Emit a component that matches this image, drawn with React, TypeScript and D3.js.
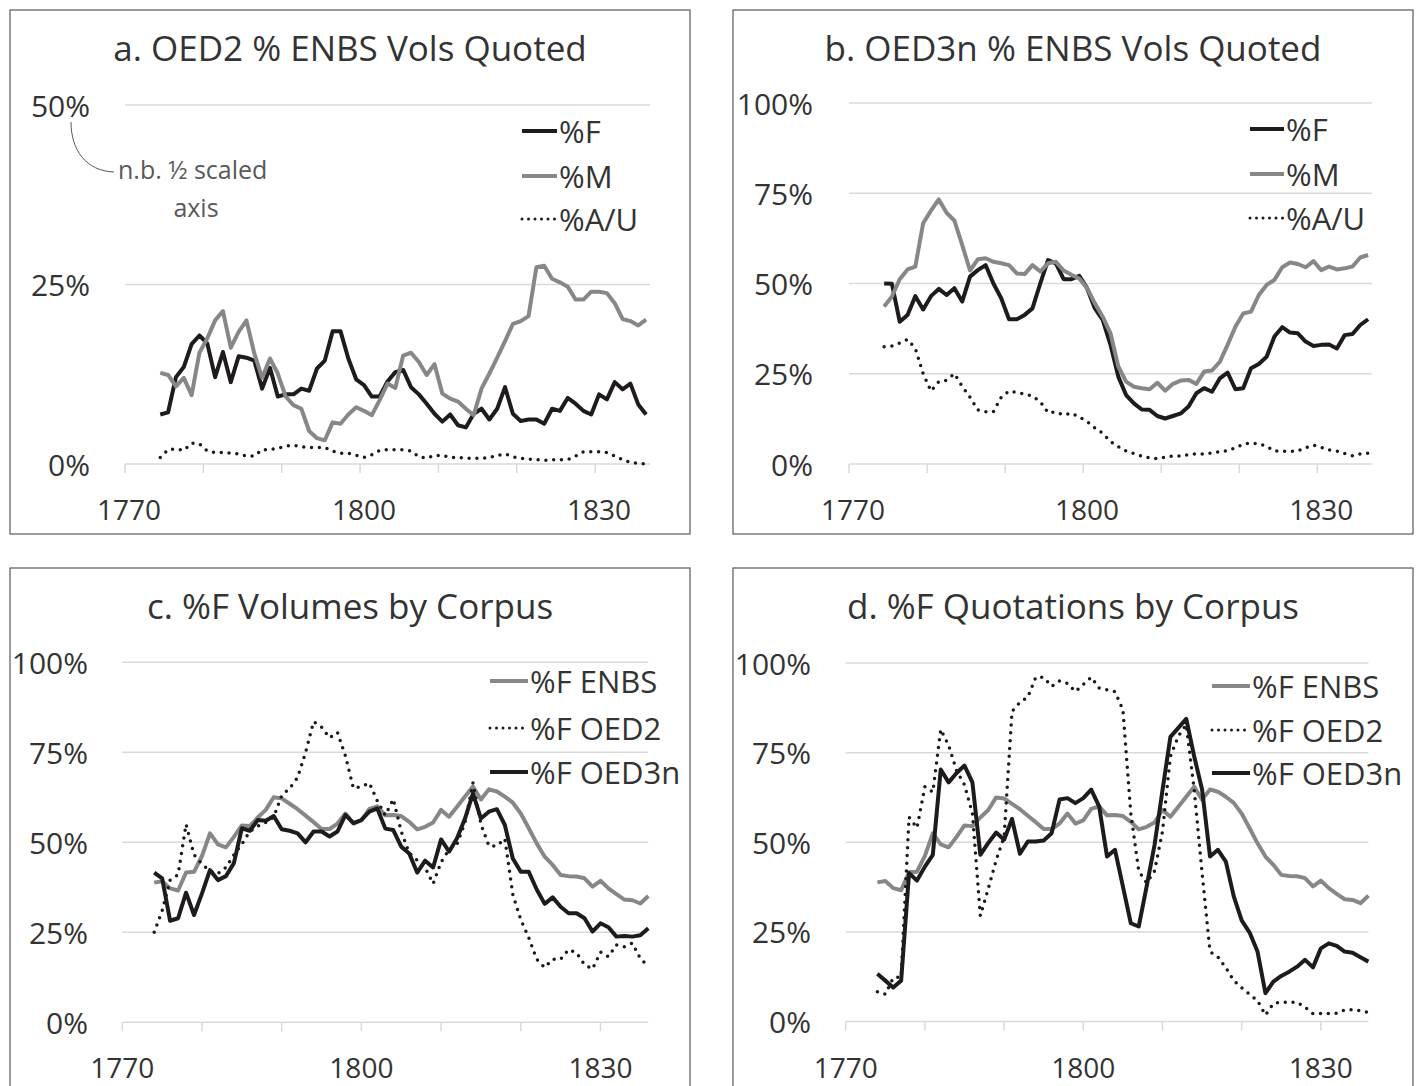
import * as d3 from "d3";

const years = d3.range(1774, 1837);

// a. OED2 share of ENBS volumes quoted (half-scaled axis)
const oed2F = [6.9, 7.2, 12.1, 13.5, 16.7, 17.9, 16.8, 12.1, 15.6, 11.4, 15.0, 14.8, 14.4, 10.5, 13.4, 9.4, 9.7, 9.7, 10.5, 10.2, 13.3, 14.4, 18.5, 18.5, 14.7, 11.8, 11.0, 9.4, 9.4, 11.5, 12.8, 13.1, 10.7, 9.7, 8.4, 7.0, 5.9, 6.9, 5.4, 5.1, 7.0, 7.7, 6.2, 7.7, 10.7, 7.0, 6.0, 6.2, 6.2, 5.6, 7.7, 7.4, 9.2, 8.4, 7.4, 6.9, 9.7, 9.0, 11.4, 10.4, 11.2, 8.3, 6.9];
const oed2M = [12.7, 12.4, 10.8, 12.0, 9.6, 15.5, 17.5, 20.0, 21.3, 16.2, 18.4, 20.0, 15.4, 12.0, 14.7, 12.6, 9.4, 8.2, 7.7, 4.6, 3.6, 3.3, 5.8, 5.6, 6.9, 7.9, 7.4, 6.8, 8.9, 11.2, 10.6, 15.1, 15.5, 14.2, 12.4, 13.9, 9.8, 9.1, 8.7, 7.7, 6.8, 10.5, 12.6, 14.8, 17.1, 19.5, 19.9, 20.6, 27.4, 27.6, 25.8, 25.3, 24.7, 22.9, 22.9, 24.0, 24.0, 23.8, 22.4, 20.2, 19.9, 19.3, 20.1];
const oed2AU = [0.9, 2.0, 2.1, 1.9, 2.9, 2.8, 1.8, 1.6, 1.6, 1.5, 1.4, 1.1, 1.1, 2.0, 2.0, 2.2, 2.5, 2.6, 2.4, 2.3, 2.3, 2.3, 1.8, 1.5, 1.5, 1.2, 0.9, 1.3, 1.9, 2.0, 2.0, 2.0, 1.8, 1.0, 0.8, 1.2, 1.2, 0.9, 0.9, 0.8, 0.8, 0.8, 0.9, 1.2, 1.4, 1.0, 0.8, 0.7, 0.6, 0.5, 0.6, 0.6, 0.6, 1.1, 1.7, 1.7, 1.7, 1.6, 1.1, 0.6, 0.2, 0.1, 0.0];

// b. OED3n share of ENBS volumes quoted
const oed3F = [50.0, 49.9, 39.4, 41.3, 46.5, 42.8, 46.5, 48.5, 46.8, 48.7, 45.0, 51.9, 53.7, 55.1, 50.0, 45.9, 40.1, 40.1, 41.3, 43.1, 50.0, 56.5, 55.6, 51.2, 51.2, 52.1, 48.7, 43.1, 39.9, 33.0, 24.2, 19.1, 16.8, 15.1, 15.0, 13.3, 12.6, 13.3, 14.0, 15.9, 19.6, 21.0, 20.0, 23.7, 25.3, 20.7, 21.0, 26.5, 27.7, 29.7, 35.3, 37.9, 36.4, 36.2, 33.9, 32.7, 33.0, 33.1, 32.0, 35.7, 36.0, 38.5, 40.1];
const oed3M = [43.6, 46.4, 51.2, 53.9, 54.7, 66.7, 70.2, 73.3, 69.6, 67.4, 60.7, 53.6, 56.7, 57.0, 56.0, 55.6, 55.1, 52.8, 52.6, 55.1, 53.3, 55.6, 56.0, 53.6, 52.4, 51.4, 48.7, 44.5, 40.8, 36.2, 27.0, 22.8, 21.4, 21.0, 20.7, 22.5, 20.3, 22.2, 23.1, 23.3, 22.2, 25.6, 25.9, 28.3, 33.0, 38.0, 41.7, 42.2, 46.8, 49.6, 51.0, 54.5, 55.8, 55.4, 54.5, 56.2, 53.7, 54.7, 53.9, 54.2, 54.7, 57.2, 57.9];
const oed3AU = [32.5, 32.7, 33.5, 34.5, 32.0, 25.0, 20.2, 22.8, 23.2, 25.0, 21.5, 18.5, 15.0, 14.5, 14.5, 18.5, 20.2, 19.8, 19.4, 18.8, 17.3, 14.2, 14.4, 13.6, 14.1, 13.0, 11.8, 10.0, 8.5, 6.2, 4.8, 3.6, 2.9, 2.2, 1.7, 1.5, 1.9, 2.2, 2.2, 2.6, 2.8, 2.8, 3.0, 3.4, 3.7, 4.5, 5.5, 5.8, 5.6, 4.9, 3.6, 3.5, 3.5, 3.6, 4.5, 5.2, 4.6, 3.9, 3.6, 2.9, 2.3, 2.8, 3.0];

// c. %F volumes by corpus
const enbsF = [38.8, 39.2, 37.2, 36.6, 41.6, 41.8, 46.2, 52.5, 49.4, 48.6, 51.5, 54.7, 54.5, 56.9, 59.0, 62.5, 62.2, 60.7, 59.2, 57.4, 55.6, 53.7, 53.7, 55.2, 58.0, 55.2, 56.1, 59.3, 60.0, 57.5, 57.6, 57.3, 55.7, 53.6, 54.3, 55.5, 59.0, 57.1, 59.9, 62.7, 65.5, 61.9, 64.7, 64.1, 62.7, 61.0, 58.0, 53.9, 49.7, 46.0, 43.7, 40.9, 40.6, 40.5, 40.0, 37.7, 39.3, 37.2, 35.6, 34.1, 33.9, 33.0, 35.1];
const volOed2F = [25.0, 31.0, 39.5, 41.0, 55.0, 46.5, 44.0, 42.0, 41.3, 43.0, 46.5, 49.5, 53.0, 54.5, 55.5, 57.0, 63.0, 65.0, 68.0, 75.0, 83.5, 82.0, 79.0, 80.5, 74.0, 65.0, 65.5, 66.5, 61.5, 57.5, 62.0, 53.0, 47.0, 45.0, 43.0, 38.5, 44.5, 48.0, 49.5, 55.5, 66.5, 55.0, 49.0, 49.0, 51.0, 35.5, 28.5, 23.5, 17.5, 15.2, 17.5, 17.5, 20.2, 19.3, 16.0, 14.8, 19.5, 18.2, 21.5, 21.0, 22.0, 17.7, 15.5];
const volOed3F = [41.6, 40.0, 28.2, 28.9, 36.0, 29.8, 35.8, 42.3, 39.5, 40.6, 44.2, 53.9, 53.2, 56.2, 56.0, 57.3, 53.6, 53.2, 52.5, 50.0, 53.0, 53.0, 51.6, 53.0, 57.6, 55.3, 56.2, 58.5, 59.4, 53.8, 53.4, 48.8, 46.9, 41.6, 44.9, 43.0, 50.8, 47.4, 51.1, 56.6, 63.6, 56.6, 58.5, 59.2, 54.8, 45.5, 41.8, 41.8, 36.9, 32.9, 34.7, 32.1, 30.3, 30.3, 28.9, 25.2, 27.5, 26.4, 23.8, 24.0, 23.8, 24.2, 26.1];

// d. %F quotations by corpus
const quoOed2F = [8.3, 7.6, 12.2, 12.5, 57.0, 54.0, 65.5, 64.0, 81.5, 77.0, 70.0, 66.0, 58.0, 29.5, 37.0, 45.0, 51.5, 86.5, 89.0, 90.5, 96.0, 96.0, 93.5, 95.0, 94.3, 92.0, 94.0, 96.0, 93.0, 92.5, 92.0, 87.0, 58.0, 42.0, 38.7, 42.0, 53.0, 74.0, 79.6, 82.8, 64.7, 41.4, 19.5, 18.0, 15.0, 11.4, 9.4, 7.6, 5.8, 1.8, 5.0, 5.4, 5.4, 5.4, 4.0, 2.2, 2.2, 2.2, 2.3, 3.2, 3.3, 3.0, 2.5];
const quoOed3F = [13.3, 11.4, 9.5, 11.4, 41.4, 39.3, 43.2, 46.5, 70.3, 66.7, 69.3, 71.4, 66.7, 46.5, 49.8, 52.7, 50.7, 56.5, 46.8, 50.2, 50.2, 50.5, 52.5, 61.9, 62.3, 60.9, 62.3, 64.7, 60.0, 46.0, 47.9, 37.7, 27.4, 26.5, 37.7, 49.3, 64.5, 79.4, 81.9, 84.4, 74.0, 64.7, 46.0, 47.9, 44.6, 34.9, 28.2, 24.8, 19.5, 7.9, 11.1, 12.7, 13.9, 15.3, 17.2, 15.1, 20.4, 21.8, 21.1, 19.5, 19.2, 17.9, 16.7];

const tickYears = [1770, 1780, 1790, 1800, 1810, 1820, 1830];
const labelYears = [1770, 1800, 1830];

const FONT = "'Open Sans', 'Noto Sans', sans-serif";
const TEXT = "#333333";
const GRID = "#d9d9d9";
const styles = {
  black: { stroke: "#1f1b1c", width: 4, dash: undefined },
  gray: { stroke: "#878787", width: 4, dash: undefined },
  dot: { stroke: "#1a1a1a", width: 3.5, dash: "0 7.8" },
};

const panels = [
  {
    title: "a. OED2 % ENBS Vols Quoted",
    box: [10, 10, 680, 524],
    between: true,
    xRange: [125, 650],
    yRange: [464, 105],
    yMax: 0.5,
    yTicks: [0, 0.25, 0.5],
    yLabelX: 90,
    legend: { x1: 522, x2: 557, ys: [131, 176, 219] },
    series: [
      { name: "%F", values: oed2F, style: "black" },
      { name: "%M", values: oed2M, style: "gray" },
      { name: "%A/U", values: oed2AU, style: "dot" },
    ],
  },
  {
    title: "b. OED3n % ENBS Vols Quoted",
    box: [733, 10, 680, 524],
    between: true,
    xRange: [849, 1372],
    yRange: [464, 103],
    yMax: 1,
    yTicks: [0, 0.25, 0.5, 0.75, 1],
    yLabelX: 813,
    legend: { x1: 1250, x2: 1284, ys: [129, 174, 218] },
    series: [
      { name: "%F", values: oed3F, style: "black" },
      { name: "%M", values: oed3M, style: "gray" },
      { name: "%A/U", values: oed3AU, style: "dot" },
    ],
  },
  {
    title: "c. %F Volumes by Corpus",
    box: [10, 568, 680, 530],
    between: false,
    xRange: [122.3, 648.3],
    yRange: [1022.3, 662.3],
    yMax: 1,
    yTicks: [0, 0.25, 0.5, 0.75, 1],
    yLabelX: 88,
    legend: { x1: 490, x2: 528, ys: [681, 728, 772] },
    series: [
      { name: "%F ENBS", values: enbsF, style: "gray" },
      { name: "%F OED2", values: volOed2F, style: "dot" },
      { name: "%F OED3n", values: volOed3F, style: "black" },
    ],
  },
  {
    title: "d. %F Quotations by Corpus",
    box: [733, 568, 680, 530],
    between: false,
    xRange: [845.7, 1368.4],
    yRange: [1021.5, 663],
    yMax: 1,
    yTicks: [0, 0.25, 0.5, 0.75, 1],
    yLabelX: 811,
    legend: { x1: 1212, x2: 1250, ys: [686, 730, 773] },
    series: [
      { name: "%F ENBS", values: enbsF, style: "gray" },
      { name: "%F OED2", values: quoOed2F, style: "dot" },
      { name: "%F OED3n", values: quoOed3F, style: "black" },
    ],
  },
];

function Panel({ p }) {
  const [bx, by, bw, bh] = p.box;
  const domain = p.between ? [1769.5, 1836.5] : [1770, 1836];
  const x = d3.scaleLinear().domain(domain).range(p.xRange);
  const y = d3.scaleLinear().domain([0, p.yMax]).range(p.yRange);
  const tickX = (yr) => (p.between ? x(yr - 0.5) : x(yr));
  const axisY = y(0);
  const line = d3
    .line<number>()
    .x((d, i) => x(years[i]))
    .y((d) => y(d / 100));

  return (
    <g>
      <rect x={bx} y={by} width={bw} height={bh} fill="#fff" stroke="#595959" strokeWidth={1.2} />
      <text x={bx + bw / 2} y={by + 37} textAnchor="middle" dominantBaseline="central" fontSize={35} fill={TEXT}>
        {p.title}
      </text>
      {p.yTicks.map((t) => (
        <g key={t}>
          {t > 0 && (
            <line x1={p.xRange[0]} x2={p.xRange[1]} y1={y(t)} y2={y(t)} stroke={GRID} strokeWidth={1.5} />
          )}
          <text x={p.yLabelX} y={y(t)} textAnchor="end" dominantBaseline="central" fontSize={30} fill={TEXT}>
            {d3.format(".0%")(t)}
          </text>
        </g>
      ))}
      <line x1={p.xRange[0]} x2={p.xRange[1]} y1={axisY} y2={axisY} stroke={GRID} strokeWidth={1.5} />
      {tickYears.map((yr) => (
        <line key={yr} x1={tickX(yr)} x2={tickX(yr)} y1={axisY} y2={axisY + 9} stroke={GRID} strokeWidth={1.5} />
      ))}
      {labelYears.map((yr) => (
        <text key={yr} x={x(yr)} y={axisY + 45} textAnchor="middle" dominantBaseline="central" fontSize={28} fill={TEXT}>
          {yr}
        </text>
      ))}
      {p.series.map((s) => {
        const st = styles[s.style];
        return (
          <path
            key={s.name}
            d={line(s.values)}
            fill="none"
            stroke={st.stroke}
            strokeWidth={st.width}
            strokeDasharray={st.dash}
            strokeLinecap={st.dash ? "round" : "butt"}
            strokeLinejoin="round"
          />
        );
      })}
      {p.series.map((s, i) => {
        const st = styles[s.style];
        const ly = p.legend.ys[i];
        return (
          <g key={"lg" + s.name}>
            <line
              x1={p.legend.x1}
              x2={p.legend.x2}
              y1={ly}
              y2={ly}
              stroke={st.stroke}
              strokeWidth={st.dash ? 3 : st.width}
              strokeDasharray={st.dash ? "0 6.5" : undefined}
              strokeLinecap={st.dash ? "round" : "butt"}
            />
            <text x={p.legend.x2 + 2} y={ly} dominantBaseline="central" fontSize={31} fill={TEXT}>
              {s.name}
            </text>
          </g>
        );
      })}
    </g>
  );
}

export default function App() {
  return (
    <svg
      width={1420}
      height={1086}
      style={{ position: "absolute", left: 0, top: 0, background: "#fff" }}
      fontFamily={FONT}
    >
      {panels.map((p) => (
        <Panel key={p.title} p={p} />
      ))}
      {/* note under panel a's top label */}
      <path d="M71,122 C71,150 86,171 114,172" fill="none" stroke="#595959" strokeWidth={1} />
      <text x={118} y={169} dominantBaseline="central" fontSize={25} fill="#595959">
        n.b. ½ scaled
      </text>
      <text x={196} y={207} textAnchor="middle" dominantBaseline="central" fontSize={25} fill="#595959">
        axis
      </text>
    </svg>
  );
}
